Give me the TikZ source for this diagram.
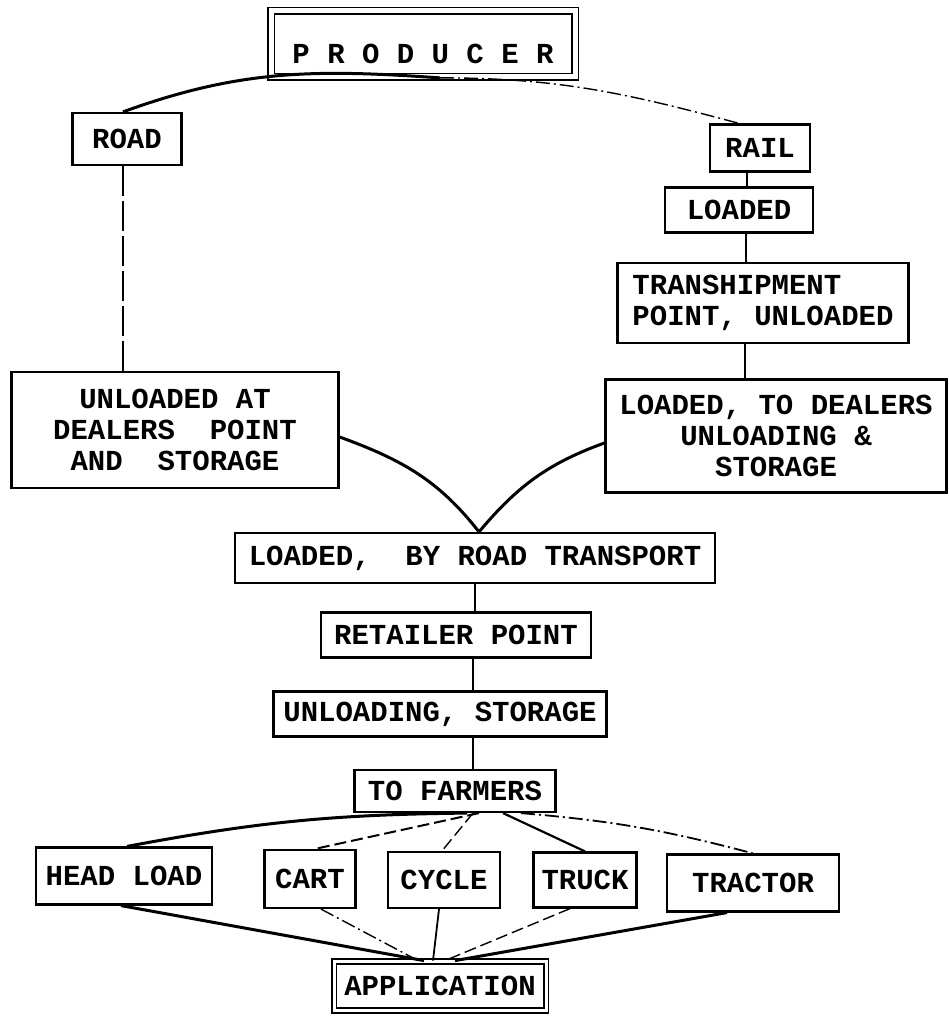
\documentclass[tikz,border=0pt]{standalone}
\usepackage{fontspec}
\setmonofont{Liberation Mono}
\begin{document}
\begin{tikzpicture}[x=1pt,y=1pt,
  box/.style={draw, line width=2.2pt, inner sep=2pt, align=center,
    font=\ttfamily\bfseries\fontsize{29}{31}\selectfont},
  twobox/.style={box, double, double distance=5pt, line width=1.8pt},
  heavy/.style={line width=3pt},
  light/.style={line width=1.4pt},
  dashline/.style={light, dash pattern=on 12pt off 5pt},
  longdash/.style={light, dash pattern=on 30pt off 5pt},
  dotdash/.style={light, dash pattern=on 14pt off 4pt on 2pt off 4pt}]
\useasboundingbox (0,0) rectangle (949,1016);
\node[twobox, minimum width=304pt, minimum height=66pt, text height=40pt, text depth=0pt] (producer) at (423,972) {P R O D U C E R};
\node[box, minimum width=109pt, minimum height=52pt] (road) at (127,877) {ROAD};
\node[box, minimum width=100pt, minimum height=47pt] (rail) at (760,868) {RAIL};
\node[box, minimum width=148pt, minimum height=45pt] (loadedrail) at (739,806) {LOADED};
\node[box, minimum width=291pt, minimum height=80pt, align=left] (tranship) at (763,713) {TRANSHIPMENT\\POINT, UNLOADED};
\node[box, minimum width=327pt, minimum height=116pt] (unloadedat) at (175,586) {UNLOADED AT\\DEALERS~ POINT\\AND~ STORAGE};
\node[box, minimum width=341pt, minimum height=113pt] (dealers) at (776,580) {LOADED, TO DEALERS\\UNLOADING \&\\STORAGE};
\node[box, minimum width=480pt, minimum height=50pt] (byroad) at (475,458) {LOADED,~ BY ROAD TRANSPORT};
\node[box, minimum width=270pt, minimum height=45pt] (retailer) at (456,381) {RETAILER POINT};
\node[box, minimum width=333pt, minimum height=45pt] (unloading) at (440,302) {UNLOADING, STORAGE};
\node[box, minimum width=201pt, minimum height=42pt] (farmers) at (455,225) {TO FARMERS};
\node[box, minimum width=176pt, minimum height=57pt] (headload) at (124,140) {HEAD LOAD};
\node[box, minimum width=91pt, minimum height=58pt] (cart) at (310,137) {CART};
\node[box, minimum width=112pt, minimum height=56pt] (cycle) at (444,136) {CYCLE};
\node[box, minimum width=103pt, minimum height=55pt] (truck) at (585,136) {TRUCK};
\node[box, minimum width=172pt, minimum height=57pt] (tractor) at (753,133) {TRACTOR};
\node[twobox, double distance=3pt, minimum width=212pt, minimum height=49pt] (application) at (440,30) {APPLICATION};
\draw[heavy] ([xshift=17pt]producer.south) to[out=176,in=20] ([xshift=-4pt]road.north);
\draw[dotdash] ([xshift=17pt]producer.south) to[out=0,in=165] ([xshift=-21pt]rail.north);
\draw[longdash] ([xshift=-4pt]road.south) -- ([xshift=-4pt]road.south |- unloadedat.north);
\draw[light] ([xshift=-13pt]rail.south) -- ([xshift=-13pt]rail.south |- loadedrail.north);
\draw[light] ([xshift=7pt]loadedrail.south) -- ([xshift=7pt]loadedrail.south |- tranship.north);
\draw[light] ([xshift=-18pt]tranship.south) -- ([xshift=-18pt]tranship.south |- dealers.north);
\draw[heavy] ([yshift=-7pt]unloadedat.east) to[out=-20,in=128] ([xshift=4pt]byroad.north);
\draw[heavy] ([yshift=-7pt]dealers.west) to[out=200,in=50] ([xshift=4pt]byroad.north);
\draw[light] (byroad.south) -- (byroad.south |- retailer.north);
\draw[light] ([xshift=17pt]retailer.south) -- ([xshift=17pt]retailer.south |- unloading.north);
\draw[light] ([xshift=33pt]unloading.south) -- ([xshift=33pt]unloading.south |- farmers.north);
\draw[heavy] ([xshift=12pt]farmers.south) to[bend right=5] ([xshift=3pt]headload.north);
\draw[dashline, line width=2pt] ([xshift=24pt]farmers.south) -- ([xshift=5pt]cart.north);
\draw[dashline] ([xshift=18pt]farmers.south) -- ([xshift=-2pt]cycle.north);
\draw[heavy, line width=2.2pt] ([xshift=48pt]farmers.south) -- (truck.north);
\draw[dotdash, line width=1.8pt] ([xshift=66pt]farmers.south) to[bend left=5] (tractor.north);
\draw[heavy] ([xshift=-3pt]headload.south) -- ([xshift=-16pt]application.north);
\draw[dotdash] ([xshift=11pt]cart.south) -- ([xshift=-22pt]application.north);
\draw[light, line width=1.8pt] ([xshift=-5pt]cycle.south) -- ([xshift=-7pt]application.north);
\draw[dashline] ([xshift=-15pt]truck.south) -- ([xshift=5pt]application.north);
\draw[heavy] ([xshift=-26pt]tractor.south) -- ([xshift=15pt]application.north);
\end{tikzpicture}
\end{document}
